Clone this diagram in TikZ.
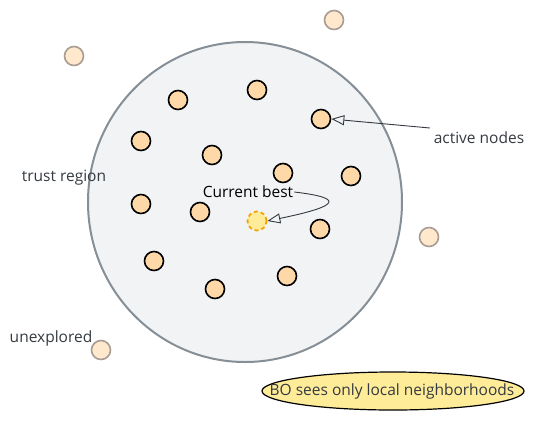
\documentclass[tikz,border=0pt]{standalone}
\usepackage{fontspec}
\setmainfont{Open Sans}
\usetikzlibrary{arrows.meta, positioning, shapes.geometric}
\definecolor{regionfill}{HTML}{F1F3F5}
\definecolor{regionline}{HTML}{868E96}
\definecolor{activefill}{HTML}{FFD8A8}
\definecolor{bestfill}{HTML}{FFEC99}
\definecolor{bestline}{HTML}{F59F00}
\definecolor{idlefill}{HTML}{FFE8CC}
\definecolor{idleline}{HTML}{A89C94}
\definecolor{textgray}{HTML}{343A40}

\begin{document}
\begin{tikzpicture}[
  x=1pt, y=-1pt,
  active/.style={circle, draw=black, line width=1.6pt, fill=activefill, minimum size=19pt, inner sep=0pt},
  best/.style={circle, draw=bestline, dash pattern=on 4pt off 3pt, line width=1.7pt, fill=bestfill, minimum size=19pt, inner sep=0pt},
  idle/.style={circle, draw=idleline, line width=1.6pt, fill=idlefill, minimum size=19pt, inner sep=0pt},
  lbl/.style={font=\fontsize{15.5}{17}\selectfont, text=textgray, inner sep=1pt},
  arrow/.style={-{Triangle[open, length=13pt, width=10pt]}, line width=0.9pt, textgray}
]
\useasboundingbox (0,0) rectangle (535,424);

% trust region
\draw[regionline, fill=regionfill, line width=2pt] (245,202) ellipse [x radius=157, y radius=160];

% active nodes
\foreach \i/\x/\y in {1/178/100, 2/257/90, 3/321/119, 4/141/141, 5/212/155, 6/283/173,
  7/351/176, 8/141/204, 9/200/212, 10/320/229, 11/154/261, 12/215/289, 13/287/276}
  \node[active] (a\i) at (\x,\y) {};

\node[best] (best) at (257,221) {};

% unexplored nodes
\node[idle] (u1) at (334,20) {};
\node[idle] (u2) at (74,56) {};
\node[idle] (u3) at (429,237) {};
\node[idle] (u4) at (101,350) {};

% labels
\node[lbl] (trust) at (64,178) {trust region};
\node[lbl, text=black] (bestlbl) at (248,192) {Current best};
\node[lbl] (activelbl) at (479,138) {active nodes};
\node[lbl] (unexp) at (51,338) {unexplored};

% note
\fill[bestfill] (393,391) ellipse [x radius=131, y radius=19];
\draw[black, line width=1.2pt] (393,391) ellipse [x radius=131, y radius=19];
\node[lbl] (note) at (392,391) {BO sees only local neighborhoods};

% arrows
\coordinate (ah) at (430,128);
\draw[arrow] (ah) -- (a3.east);
\draw[arrow] (bestlbl.east) .. controls (345,198) and (340,206) .. (best.east);
\end{tikzpicture}
\end{document}
